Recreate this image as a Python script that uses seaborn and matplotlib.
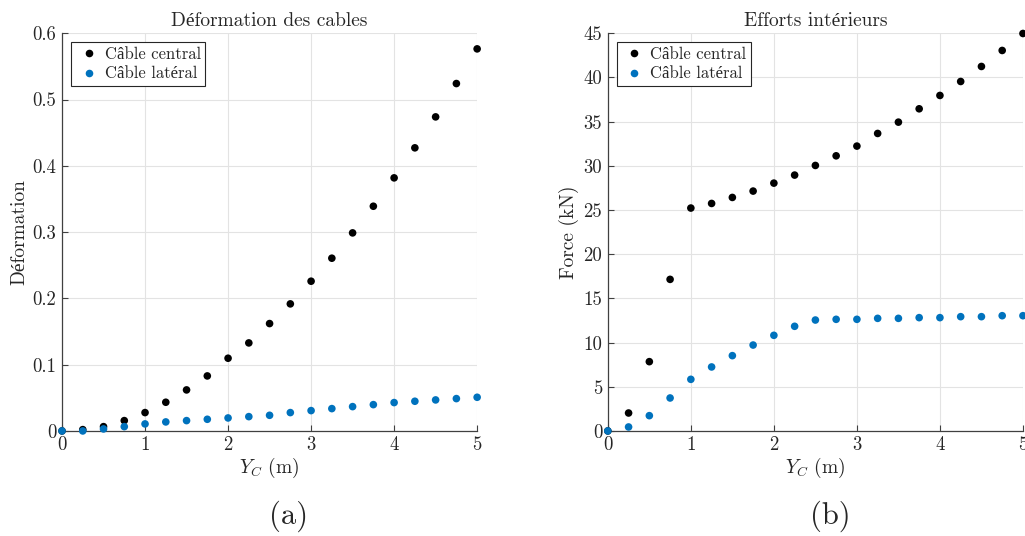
import pandas as pd
import matplotlib.pyplot as plt
import seaborn as sns
import numpy as np

sns.set_style("whitegrid")
plt.rcParams['font.family'] = ['cmr10', 'Liberation Serif', 'DejaVu Serif']
plt.rcParams['mathtext.fontset'] = 'cm'
plt.rcParams['axes.formatter.use_mathtext'] = True

yc = [0, 0.25, 0.5, 0.75, 1, 1.25, 1.5, 1.75, 2, 2.25, 2.5, 2.75, 3, 3.25, 3.5,
      3.75, 4, 4.25, 4.5, 4.75, 5]

deform_central = [0, 0.002, 0.0065, 0.0156, 0.0277, 0.0433, 0.0619, 0.083, 0.1097,
                  0.1328, 0.162, 0.1917, 0.2259, 0.2606, 0.2988, 0.339, 0.3818,
                  0.4271, 0.4738, 0.5241, 0.5764]
deform_lateral = [0, 0.0, 0.003, 0.0065, 0.0106, 0.0136, 0.0156, 0.0176, 0.0196,
                  0.0216, 0.0236, 0.0277, 0.0307, 0.0337, 0.0367, 0.0397, 0.0428,
                  0.0448, 0.0468, 0.0488, 0.0508]

force_central = [0, 2.03, 7.84, 17.15, 25.22, 25.74, 26.42, 27.14, 28.04, 28.95,
                 30.04, 31.13, 32.23, 33.66, 34.94, 36.45, 37.96, 39.54, 41.24,
                 43.05, 44.97]
force_lateral = [0, 0.45, 1.73, 3.73, 5.84, 7.24, 8.52, 9.72, 10.82, 11.84, 12.55,
                 12.63, 12.63, 12.74, 12.74, 12.82, 12.82, 12.93, 12.93, 13.04, 13.04]

labels = ["Câble central", "Câble latéral"]
colors = {"Câble central": "black", "Câble latéral": "#0072BD"}

def long_df(central, lateral):
    return pd.DataFrame({
        "yc": yc + yc,
        "val": central + lateral,
        "cable": [labels[0]] * len(yc) + [labels[1]] * len(yc),
    })

fig = plt.figure(figsize=(10.25, 5.36), dpi=100)
ax1 = fig.add_axes([0.0605, 0.196, 0.405, 0.742])
ax2 = fig.add_axes([0.593, 0.196, 0.405, 0.742])

panels = [
    (ax1, long_df(deform_central, deform_lateral), "Déformation des cables",
     "Déformation", (0, 0.6), np.arange(0, 0.61, 0.1)),
    (ax2, long_df(force_central, force_lateral), "Efforts intérieurs",
     "Force (kN)", (0, 45), np.arange(0, 46, 5)),
]

for ax, df, title, ylabel, ylim, yticks in panels:
    sns.scatterplot(data=df, x="yc", y="val", hue="cable", palette=colors,
                    s=30, edgecolor="none", linewidth=0, ax=ax, clip_on=False,
                    zorder=3)
    ax.set_xlim(0, 5)
    ax.set_ylim(*ylim)
    ax.set_xticks(range(6))
    ax.set_yticks(yticks)
    ax.yaxis.set_major_formatter(plt.FuncFormatter(lambda v, p: f"{v:g}"))
    ax.set_title(title, fontsize=14, pad=5)
    ax.set_xlabel(r"$Y_C$ (m)", fontsize=14, labelpad=1)
    ax.set_ylabel(ylabel, fontsize=14, labelpad=3)
    ax.grid(True, color="#e3e3e3", linewidth=0.8)
    for side in ["top", "right"]:
        ax.spines[side].set_visible(False)
    for side in ["left", "bottom"]:
        ax.spines[side].set_color("#404040")
        ax.spines[side].set_linewidth(0.9)
    ax.tick_params(direction="in", length=4, width=0.8, color="#404040",
                   labelsize=13.5, labelcolor="#262626", pad=4,
                   left=True, bottom=True)
    leg = ax.legend(loc="upper left", fontsize=12, frameon=True, fancybox=False,
                    edgecolor="#262626", framealpha=1, borderpad=0.25,
                    handletextpad=0.15, handlelength=1.6, borderaxespad=0.55,
                    labelspacing=0.25)
    leg.get_frame().set_linewidth(0.8)

fig.text(0.282, 0.037, "(a)", fontsize=22, ha="center", va="center")
fig.text(0.81, 0.037, "(b)", fontsize=22, ha="center", va="center")

plt.savefig("out.png", dpi=100)
plt.close()
